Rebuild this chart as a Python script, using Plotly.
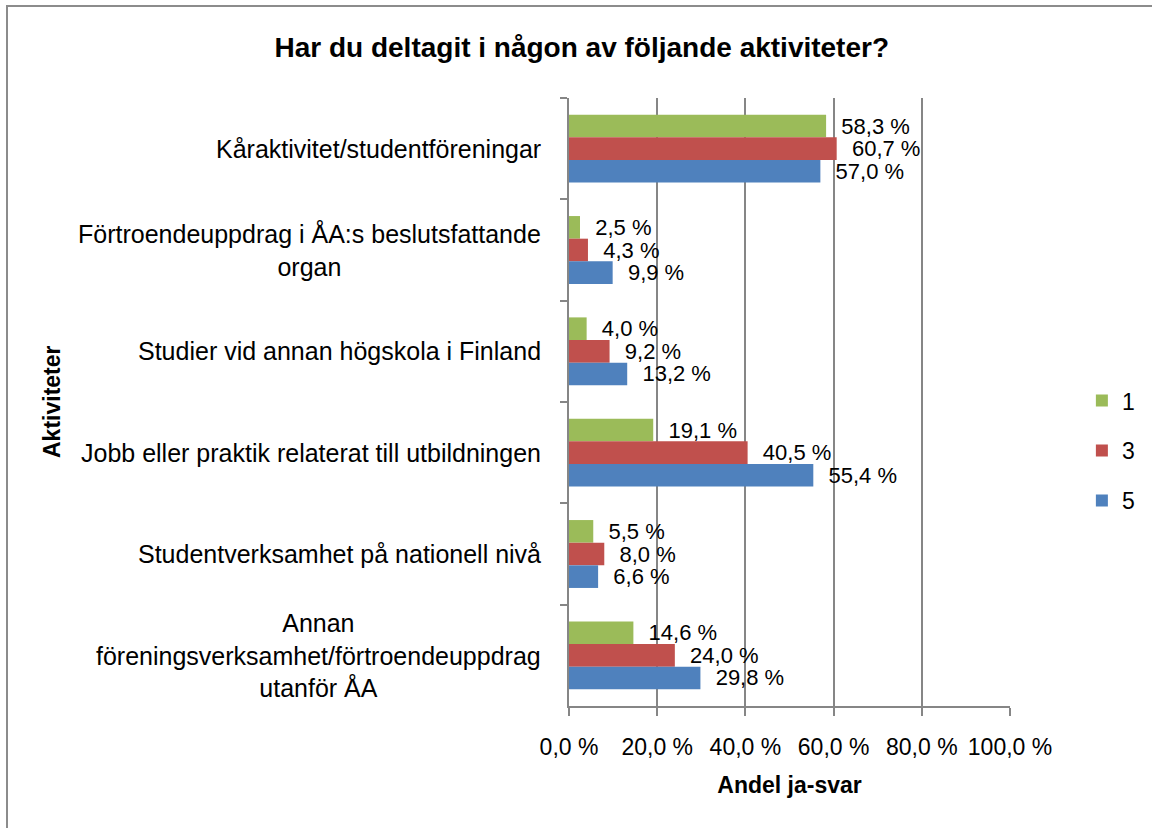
import plotly.graph_objects as go

categories = [
    "Kåraktivitet/studentföreningar",
    "Förtroendeuppdrag i ÅA:s beslutsfattande<br>organ",
    "Studier vid annan högskola i Finland",
    "Jobb eller praktik relaterat till utbildningen",
    "Studentverksamhet på nationell nivå",
    "Annan<br>föreningsverksamhet/förtroendeuppdrag<br>utanför ÅA",
]
series_names = ["1", "3", "5"]
values_1 = [58.3, 2.5, 4.0, 19.1, 5.5, 14.6]
values_3 = [60.7, 4.3, 9.2, 40.5, 8.0, 24.0]
values_5 = [57.0, 9.9, 13.2, 55.4, 6.6, 29.8]
x_ticks = [0, 20, 40, 60, 80, 100]

colors = ["#9BBB59", "#C0504D", "#4F81BD"]
FONT = "Liberation Sans"


def fmt(v):
    return f"{v:.1f}".replace(".", ",") + " %"


fig = go.Figure()
for name, vals, col in zip(series_names, [values_1, values_3, values_5], colors):
    fig.add_trace(go.Bar(
        y=categories, x=vals, name=name, orientation="h",
        marker=dict(color=col, line=dict(width=0)),
        text=["\u00a0\u00a0" + fmt(v) for v in vals],
        textposition="outside", constraintext="none", cliponaxis=False,
        textfont=dict(family=FONT, size=22, color="#000000"),
        legendgroup=name,
    ))

annotations = []
for c in categories:
    annotations.append(dict(
        x=0, xref="paper", y=c, yref="y", xanchor="right", yanchor="middle",
        xshift=-26, align="center", showarrow=False, text=c,
        font=dict(family=FONT, size=25, color="#000000"),
    ))
annotations.append(dict(
    x=0, xref="paper", y=0.5, yref="paper", xshift=-517, textangle=-90,
    xanchor="center", yanchor="middle", showarrow=False, text="<b>Aktiviteter</b>",
    font=dict(family=FONT, size=23, color="#000000"),
))

fig.update_layout(
    width=1152, height=828,
    margin=dict(l=569, r=142, t=98, b=122, autoexpand=False),
    paper_bgcolor="#FFFFFF", plot_bgcolor="#FFFFFF",
    barmode="group", bargap=0.33, bargroupgap=0,
    title=dict(text="<b>Har du deltagit i någon av följande aktiviteter?</b>",
               x=0.505, xref="container", xanchor="center",
               y=1 - 47 / 828, yref="container", yanchor="middle",
               font=dict(family=FONT, size=28, color="#000000")),
    xaxis=dict(range=[0, 100], tickvals=x_ticks, ticktext=[fmt(t) for t in x_ticks],
               showgrid=True, gridcolor="#868686", gridwidth=1.5,
               showline=True, linecolor="#868686", linewidth=1.5,
               ticks="outside", ticklen=8, tickcolor="#868686", tickwidth=1.5,
               ticklabelstandoff=12, zeroline=False,
               tickfont=dict(family=FONT, size=23, color="#000000"),
               title=dict(text="<b>Andel ja-svar</b>", standoff=18,
                          font=dict(family=FONT, size=23, color="#000000"))),
    yaxis=dict(autorange="reversed", showticklabels=False, showgrid=False,
               showline=True, linecolor="#868686", linewidth=1.5,
               ticks="outside", ticklen=7, tickcolor="#868686", tickwidth=1.5,
               tickson="boundaries", zeroline=False),
    legend=dict(x=1.163, xanchor="left", y=0.42, yanchor="middle",
                font=dict(family=FONT, size=23, color="#000000"),
                tracegroupgap=17, itemclick=False),
    annotations=annotations,
    shapes=[dict(type="rect", xref="paper", yref="paper",
                 x0=(7 - 569) / 441, x1=(1170 - 569) / 441,
                 y0=(706 - 850) / 608, y1=(706 - 6) / 608,
                 line=dict(color="#8C8C8C", width=2), layer="below")],
    showlegend=True,
)

fig.write_html("out.html", config={"displayModeBar": False},
               post_script="document.body.style.margin='0';document.body.style.overflow='hidden';")
